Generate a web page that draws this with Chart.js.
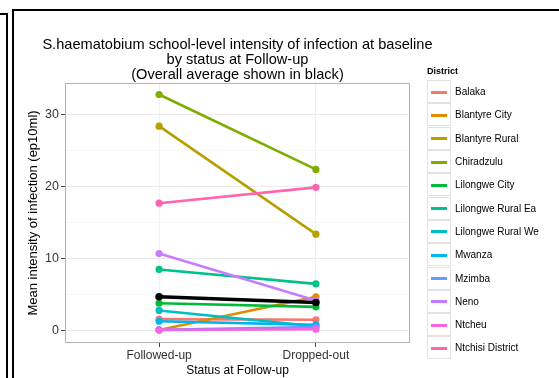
<!DOCTYPE html>
<html>
<head>
<meta charset="utf-8">
<script src="https://cdn.jsdelivr.net/npm/chart.js@4"></script>
<style>
  html, body { margin: 0; padding: 0; background: #fff; }
  body { width: 559px; height: 378px; position: relative; overflow: hidden; font-family: "Liberation Sans", Arial, sans-serif; }
  #wrap { position: absolute; left: 0; top: 0; width: 559px; height: 378px; }
  .frame { position: absolute; background: #000; }
  #title { position: absolute; left: 65px; width: 345px; top: 37px; text-align: center; font-size: 14.6px; line-height: 15px; color: #000; white-space: nowrap; }
  #title div { margin-left: -80px; margin-right: -80px; }
  #legend { position: absolute; left: 427px; top: 66px; font-size: 10px; color: #000; }
  #legend .lt { font-weight: bold; font-size: 9px; margin-bottom: 4px; }
  #legend .it { height: 23.3px; display: flex; align-items: center; }
  #legend .key { width: 24px; height: 23px; border: 1px solid #e3e3e3; background: #fff; position: relative; margin-right: 4px; box-sizing: border-box; }
  #legend .key span { position: absolute; left: 3px; right: 3px; top: 9.5px; height: 3px; }
</style>
</head>
<body>
<div id="wrap"><canvas id="c" width="559" height="378"></canvas></div>
<div class="frame" style="left:0;top:13px;width:8px;height:2px"></div>
<div class="frame" style="left:6px;top:13px;width:2px;height:400px"></div>
<div class="frame" style="left:12px;top:9px;width:600px;height:2px"></div>
<div class="frame" style="left:12px;top:9px;width:2px;height:400px"></div>
<div id="title">
  <div>S.haematobium school-level intensity of infection at baseline</div>
  <div>by status at Follow-up</div>
  <div>(Overall average shown in black)</div>
</div>
<div id="legend"></div>
<script>
// ---- data ----
const categories = ["Followed-up", "Dropped-out"];
const districts = ["Balaka", "Blantyre City", "Blantyre Rural", "Chiradzulu", "Lilongwe City",
  "Lilongwe Rural Ea", "Lilongwe Rural We", "Mwanza", "Mzimba", "Neno", "Ntcheu", "Ntchisi District"];
const colors = ["#F8766D", "#DE8C00", "#B79F00", "#7CAE00", "#00BA38", "#00C08B",
  "#00BFC4", "#00B4F0", "#619CFF", "#C77CFF", "#F564E3", "#FF64B0"];
const balaka = [1.6, 1.5];
const blantyreCity = [0.1, 4.7];
const blantyreRural = [28.4, 13.4];
const chiradzulu = [32.8, 22.4];
const lilongweCity = [3.8, 3.3];
const lilongweRuralEa = [8.5, 6.5];
const lilongweRuralWe = [2.8, 0.6];
const mwanza = [1.3, 0.8];
const mzimba = [0.1, 0.5];
const neno = [10.7, 4.2];
const ntcheu = [0.1, 0.2];
const ntchisi = [17.7, 19.9];
const overallAverage = [4.7, 3.9];
const yTickLabels = [0, 10, 20, 30];

const seriesValues = [balaka, blantyreCity, blantyreRural, chiradzulu, lilongweCity, lilongweRuralEa,
  lilongweRuralWe, mwanza, mzimba, neno, ntcheu, ntchisi];

// ---- legend (HTML) ----
const lg = document.getElementById('legend');
let html = '<div class="lt">District</div>';
districts.forEach((d, i) => {
  html += '<div class="it"><div class="key"><span style="background:' + colors[i] + '"></span></div>' + d + '</div>';
});
lg.innerHTML = html;

// ---- chart ----
const FONT = '"Liberation Sans", Arial, sans-serif';
const toPts = vals => vals.map((v, i) => ({ x: i + 1, y: v }));
const datasets = districts.map((d, i) => ({
  label: d,
  data: toPts(seriesValues[i]),
  borderColor: colors[i],
  backgroundColor: colors[i],
  borderWidth: 2.6,
  pointRadius: 3.6,
  pointBorderWidth: 0,
  pointHoverRadius: 3.6,
  order: districts.length - i
}));
datasets.push({
  label: "Overall average",
  data: toPts(overallAverage),
  borderColor: "#000",
  backgroundColor: "#000",
  borderWidth: 3.4,
  pointRadius: 3.8,
  pointBorderWidth: 0,
  order: 0
});

const panelBorder = {
  id: 'panelBorder',
  afterDraw(chart) {
    const a = chart.chartArea, ctx = chart.ctx;
    ctx.save();
    ctx.strokeStyle = '#b3b3b3';
    ctx.lineWidth = 1;
    ctx.strokeRect(a.left + 0.5, a.top + 0.5, a.right - a.left - 1, a.bottom - a.top - 1);
    ctx.restore();
  }
};

new Chart(document.getElementById('c'), {
  type: 'line',
  data: { datasets },
  plugins: [panelBorder],
  options: {
    responsive: false,
    animation: false,
    events: [],
    layout: { padding: { left: 26, right: 149, top: 83, bottom: 0 } },
    plugins: { legend: { display: false }, tooltip: { enabled: false }, title: { display: false } },
    scales: {
      x: {
        type: 'linear',
        min: 0.4,
        max: 2.6,
        afterBuildTicks: s => { s.ticks = categories.map((c, i) => ({ value: i + 1 })); },
        afterFit: s => { s.height = 35; },
        ticks: {
          callback: v => categories[v - 1],
          color: '#333',
          font: { family: FONT, size: 12 },
          padding: 1,
          maxRotation: 0
        },
        grid: { color: '#f0f0f0', lineWidth: 1, drawTicks: true, tickLength: 4, tickColor: '#444' },
        border: { display: false },
        title: {
          display: true,
          text: 'Status at Follow-up',
          color: '#000',
          font: { family: FONT, size: 12 },
          padding: { top: 0, bottom: 0 }
        }
      },
      y: {
        type: 'linear',
        min: -1.72,
        max: 34.4,
        afterBuildTicks: s => {
          const t = [];
          for (let v = 0; v <= 30; v += 5) t.push({ value: v });
          s.ticks = t;
        },
        afterFit: s => { s.width = 39; },
        ticks: {
          callback: v => (yTickLabels.includes(v) ? String(v) : ''),
          color: '#333',
          font: { family: FONT, size: 12.5 },
          padding: 2
        },
        grid: {
          color: ctx => (ctx.tick && ctx.tick.value % 10 === 0 ? '#ebebeb' : '#f7f7f7'),
          lineWidth: 1,
          tickLength: 4,
          tickColor: ctx => (ctx.tick && ctx.tick.value % 10 === 0 ? '#444' : 'rgba(0,0,0,0)')
        },
        border: { display: false },
        title: {
          display: true,
          text: 'Mean intensity of infection (ep10ml)',
          color: '#000',
          font: { family: FONT, size: 13 },
          padding: { top: 0, bottom: 0 }
        }
      }
    }
  }
});
</script>
</body>
</html>
